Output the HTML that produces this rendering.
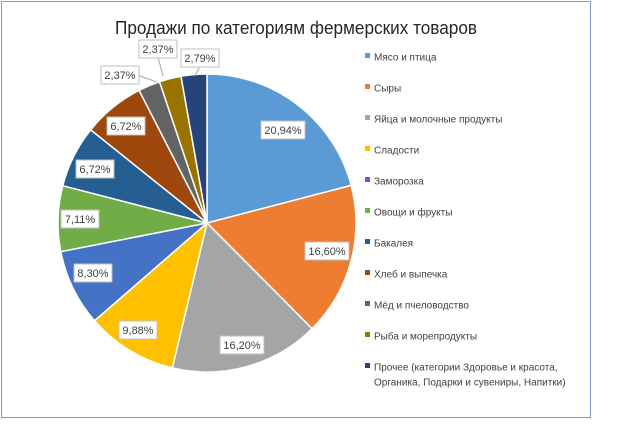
<!DOCTYPE html>
<html><head><meta charset="utf-8">
<style>
html,body{margin:0;padding:0;background:#fff;}
svg{display:block;font-family:"Liberation Sans","DejaVu Sans",sans-serif;}
</style></head>
<body>
<svg id="s" width="631" height="428" viewBox="0 0 631 428" xmlns="http://www.w3.org/2000/svg">
<rect x="0" y="0" width="631" height="428" fill="#fff"/>
<rect x="1.5" y="1.5" width="589" height="416" fill="#fff" stroke="#7a9cc6" stroke-width="1"/>
<text x="296" y="34" font-size="18" text-anchor="middle" fill="#262626" textLength="362" lengthAdjust="spacingAndGlyphs">Продажи по категориям фермерских товаров</text>
<g id="pie"></g>
<g id="labels"></g>
<g id="legend" font-size="10" fill="#404040"></g>
</svg>
<script>
var vals=[20.94,16.60,16.20,9.88,8.30,7.11,6.72,6.72,2.37,2.37,2.79];
var cols=["#5B9BD5","#ED7D31","#A5A5A5","#FFC000","#4472C4","#70AD47","#255E91","#9E480E","#636363","#997300","#264478"];
var names=["Мясо и птица","Сыры","Яйца и молочные  продукты","Сладости","Заморозка","Овощи  и фрукты","Бакалея","Хлеб и выпечка","Мёд и пчеловодство","Рыба и морепродукты","Прочее (категории Здоровье и красота,"];
var cx=207,cy=223,r=149,a=0,ns="http://www.w3.org/2000/svg";
var pie=document.getElementById("pie");
function pt(ang,rr){return [cx+rr*Math.sin(ang),cy-rr*Math.cos(ang)];}
vals.forEach(function(v,i){
  var a2=a+v/100*2*Math.PI;var p1=pt(a,r),p2=pt(a2,r);
  var d="M"+cx+","+cy+"L"+p1[0]+","+p1[1]+"A"+r+","+r+" 0 "+((a2-a)>Math.PI?1:0)+" 1 "+p2[0]+","+p2[1]+"Z";
  var p=document.createElementNS(ns,"path");p.setAttribute("d",d);p.setAttribute("fill",cols[i]);
  p.setAttribute("stroke","#fff");p.setAttribute("stroke-width","1.5");pie.appendChild(p);a=a2;});
var labs=[["20,94%",283,130],["16,60%",327,251],["16,20%",242,345],["9,88%",138,330],["8,30%",93,273],["7,11%",80,219],["6,72%",95,169],["6,72%",126,126],["2,37%",120,75],["2,37%",158,49],["2,79%",200,58]];
var L=document.getElementById("labels");
var lines=[[137,75,157,82],[158,57,163,76],[200,66,195,76]];
lines.forEach(function(l){var e=document.createElementNS(ns,"line");e.setAttribute("x1",l[0]);e.setAttribute("y1",l[1]);e.setAttribute("x2",l[2]);e.setAttribute("y2",l[3]);e.setAttribute("stroke","#a6a6a6");L.appendChild(e);});
labs.forEach(function(l){
  var w=l[0].length>5?44:38;
  var b=document.createElementNS(ns,"rect");b.setAttribute("x",l[1]-w/2);b.setAttribute("y",l[2]-9);b.setAttribute("width",w);b.setAttribute("height",18);
  b.setAttribute("fill","#fff");b.setAttribute("stroke","#bfbfbf");L.appendChild(b);
  var t=document.createElementNS(ns,"text");t.setAttribute("x",l[1]);t.setAttribute("y",l[2]+4);t.setAttribute("font-size","11");
  t.setAttribute("text-anchor","middle");t.setAttribute("fill","#404040");t.textContent=l[0];L.appendChild(t);});
var G=document.getElementById("legend");
names.forEach(function(n,i){
  var y=57+i*31;
  var m=document.createElementNS(ns,"rect");m.setAttribute("x",365);m.setAttribute("y",y-4);m.setAttribute("width",5);m.setAttribute("height",5);m.setAttribute("fill",cols[i]);G.appendChild(m);
  var t=document.createElementNS(ns,"text");t.setAttribute("x",374);t.setAttribute("y",y+3.5);t.textContent=n;G.appendChild(t);});
var t2=document.createElementNS(ns,"text");t2.setAttribute("x",374);t2.setAttribute("y",385.5);t2.textContent="Органика, Подарки и сувениры, Напитки)";G.appendChild(t2);
</script>
</body></html>
